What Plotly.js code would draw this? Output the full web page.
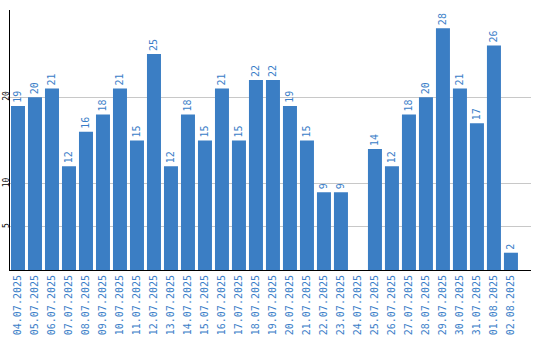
<!DOCTYPE html>
<html>
<head>
<meta charset="utf-8">
<script src="https://cdn.plot.ly/plotly-3.0.1.min.js"></script>
<style>html,body{margin:0;padding:0;background:#fff;}#chart{width:540px;height:340px;}</style>
</head>
<body>
<div id="chart"></div>
<script>
const dates = ["04.07.2025","05.07.2025","06.07.2025","07.07.2025","08.07.2025","09.07.2025","10.07.2025","11.07.2025","12.07.2025","13.07.2025","14.07.2025","15.07.2025","16.07.2025","17.07.2025","18.07.2025","19.07.2025","20.07.2025","21.07.2025","22.07.2025","23.07.2025","24.07.2025","25.07.2025","26.07.2025","27.07.2025","28.07.2025","29.07.2025","30.07.2025","31.07.2025","01.08.2025","02.08.2025"];
const counts = [19,20,21,12,16,18,21,15,25,12,18,15,21,15,22,22,19,15,9,9,null,14,12,18,20,28,21,17,26,2];
const yTicks = [5,10,20];

const barColor = "#3b7ec4";
const textColor = "#3a7ec8";
const monoFont = "DejaVu Sans Mono, monospace";

const trace = {
  type: "bar",
  x: dates,
  y: counts,
  marker: {color: barColor},
  text: counts.map(v => v === null ? "" : String(v)),
  textposition: "outside",
  textangle: -90,
  constraintext: "none",
  cliponaxis: false,
  textfont: {family: monoFont, size: 10, color: textColor},
  hoverinfo: "none"
};

const layout = {
  width: 540,
  height: 340,
  margin: {l: 10, r: 9, t: 10, b: 70},
  paper_bgcolor: "#fff",
  plot_bgcolor: "#fff",
  showlegend: false,
  bargap: 0.176,
  xaxis: {
    type: "category",
    range: [-0.47, 30.18],
    tickangle: -90,
    tickfont: {family: monoFont, size: 10, color: textColor},
    showgrid: false,
    showline: true,
    linecolor: "#000",
    linewidth: 1,
    ticks: "",
    fixedrange: true,
    automargin: false
  },
  yaxis: {
    range: [0, 30.1],
    tickvals: yTicks,
    ticktext: yTicks.map(String),
    tickangle: -90,
    tickfont: {family: monoFont, size: 8, color: "#000"},
    ticklabelstandoff: -3,
    showgrid: true,
    gridcolor: "#c8c8c8",
    gridwidth: 1,
    zeroline: false,
    showline: true,
    linecolor: "#000",
    linewidth: 1,
    ticks: "",
    fixedrange: true,
    automargin: false
  }
};

Plotly.newPlot("chart", [trace], layout, {staticPlot: true, displayModeBar: false});
</script>
</body>
</html>
